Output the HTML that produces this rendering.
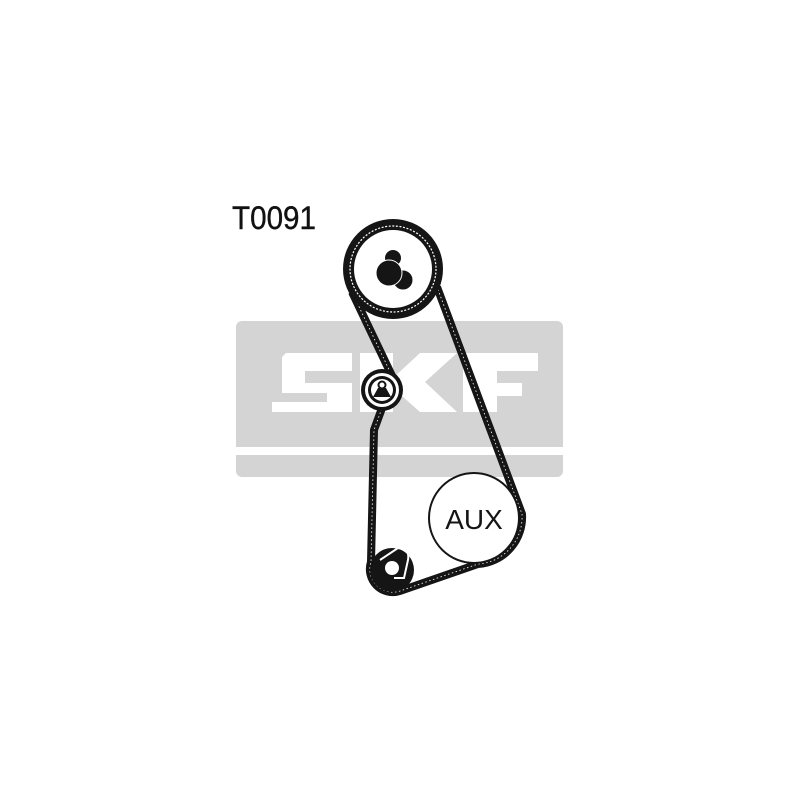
<!DOCTYPE html>
<html><head><style>
html,body{margin:0;padding:0;background:#fff;width:800px;height:800px;overflow:hidden}
</style></head><body>
<svg width="800" height="800" viewBox="0 0 800 800" xmlns="http://www.w3.org/2000/svg">
<rect x="236" y="321" width="327" height="156" rx="6" fill="#d4d4d4"/>
<rect x="236" y="447" width="327" height="8" fill="#fff"/>
<g fill="#fff">
<path d="M286,353 H352 V371 H305 V383 H352 V412 H272 V402 H327 V393 H282 V357 Z"/>
<path d="M360,353 H393 V378 L420,353 H457 L425,382 L457,412 H420 L393,388 V412 H360 Z"/>
<path d="M463,353 H538 V371 H497 V383 H522 V396 H497 V412 H463 Z"/>
</g>
<text x="232" y="229" font-family="Liberation Sans, sans-serif" font-size="32" fill="#111" textLength="84" lengthAdjust="spacingAndGlyphs" stroke="#111" stroke-width="0.4">T0091</text>
<!-- belt -->
<path d="M352,292 L393,378 L374,430 L371,562 A23,23 0 0 0 400,591 L478,564 A47,47 0 0 0 522,514 L437,287" fill="none" stroke="#151515" stroke-width="8" stroke-linejoin="round"/>
<path d="M352,292 L393,378 L374,430 L371,562 A23,23 0 0 0 400,591 L478,564 A47,47 0 0 0 522,514 L437,287" fill="none" stroke="#fff" stroke-width="0.8" stroke-dasharray="1.5 2.5"/>
<circle cx="393" cy="269" r="50" fill="#151515"/>
<circle cx="393" cy="269" r="43" fill="none" stroke="#fff" stroke-width="1.2" stroke-dasharray="2 1.6"/>
<circle cx="393" cy="269" r="39" fill="#fff"/>
<circle cx="393" cy="258" r="8" fill="#151515"/>
<circle cx="403" cy="280" r="10" fill="#151515" stroke="#fff" stroke-width="1"/>
<circle cx="389" cy="273" r="13" fill="#151515" stroke="#fff" stroke-width="1"/>
<!-- idler -->
<circle cx="382" cy="390" r="21" fill="#151515"/>
<circle cx="382" cy="390" r="17" fill="#fff"/>
<circle cx="382" cy="390" r="14" fill="#151515"/>
<circle cx="382" cy="390" r="11" fill="#fff"/>
<circle cx="382" cy="385" r="3.5" fill="none" stroke="#151515" stroke-width="2"/>
<path d="M378,388 H386 L391,397 H373 Z" fill="#151515"/>
<!-- AUX -->
<circle cx="474" cy="518" r="45" fill="#fff" stroke="#151515" stroke-width="2"/>
<text x="474" y="529" text-anchor="middle" font-family="Liberation Sans, sans-serif" font-size="28" fill="#151515">AUX</text>
<!-- crank -->
<circle cx="392" cy="570" r="22" fill="#151515"/>
<path d="M380,560 L398,548 Q410,548 408,560 L404,578 H394" fill="none" stroke="#fff" stroke-width="2"/>
<circle cx="392" cy="568" r="7" fill="#fff"/>
</svg>
</body></html>
